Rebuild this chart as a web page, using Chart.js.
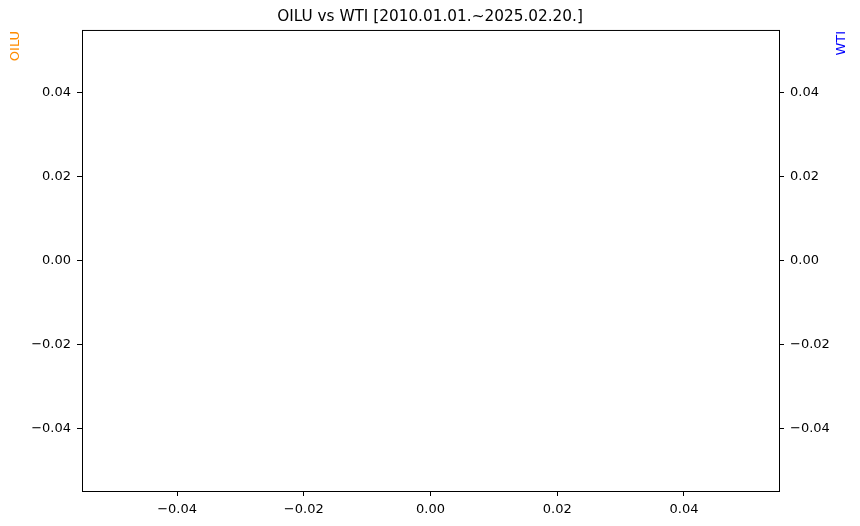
<!DOCTYPE html>
<html>
<head>
<meta charset="utf-8">
<script src="https://cdn.jsdelivr.net/npm/chart.js@4/dist/chart.umd.min.js"></script>
<style>
  html, body { margin: 0; padding: 0; background: #fff; }
  #wrap { width: 860px; height: 526px; }
</style>
</head>
<body>
<div id="wrap"><canvas id="c" width="860" height="526"></canvas></div>
<script>
// ---- data ----
const chartTitle = 'OILU vs WTI [2010.01.01.~2025.02.20.]';
const leftLabel = 'OILU';
const rightLabel = 'WTI';
const leftColor = '#ff8c00';
const rightColor = '#0000ff';
const oiluPoints = [];   // no data plotted in the reference
const wtiPoints = [];    // no data plotted in the reference
const axisMin = -0.055;
const axisMax = 0.055;
const tickValues = [-0.04, -0.02, 0.00, 0.02, 0.04];

const FONT = "'DejaVu Sans', sans-serif";
const TICK_SIZE = 13;

function fmt(v) {
  const s = Number(v).toFixed(2);
  return s.startsWith('-') ? '\u2212' + s.slice(1) : s;
}
function setTicks(scale) {
  scale.ticks = tickValues.map(v => ({ value: v }));
}
function axisCommon(pos, size) {
  return {
    type: 'linear',
    position: pos,
    min: axisMin,
    max: axisMax,
    afterBuildTicks: setTicks,
    afterFit: s => { if (pos === 'bottom') s.height = size; else s.width = size; },
    border: { display: false },
    grid: { drawOnChartArea: false, drawTicks: true, tickLength: 5, tickColor: '#000', tickWidth: 1 },
    ticks: {
      color: '#000',
      font: { family: FONT, size: TICK_SIZE },
      padding: 6,
      autoSkip: false,
      maxRotation: 0,
      callback: v => fmt(v)
    }
  };
}

const framePlugin = {
  id: 'frameAndLabels',
  afterDraw(chart) {
    const { ctx, chartArea: a } = chart;
    ctx.save();
    ctx.strokeStyle = '#000';
    ctx.lineWidth = 1;
    ctx.strokeRect(a.left + 0.5, a.top + 0.5, a.right - a.left, a.bottom - a.top);
    ctx.font = TICK_SIZE + 'px ' + FONT;
    ctx.textAlign = 'right';
    ctx.textBaseline = 'middle';
    // left label
    ctx.save();
    ctx.translate(16, a.top + 1);
    ctx.rotate(-Math.PI / 2);
    ctx.fillStyle = leftColor;
    ctx.fillText(leftLabel, 0, 0);
    ctx.restore();
    // right label
    ctx.save();
    ctx.translate(842, a.top + 1);
    ctx.rotate(-Math.PI / 2);
    ctx.fillStyle = rightColor;
    ctx.fillText(rightLabel, 0, 0);
    ctx.restore();
    ctx.restore();
  }
};

new Chart(document.getElementById('c'), {
  type: 'scatter',
  data: {
    datasets: [
      { label: leftLabel, data: oiluPoints, yAxisID: 'y', borderColor: leftColor, backgroundColor: leftColor },
      { label: rightLabel, data: wtiPoints, yAxisID: 'y2', borderColor: rightColor, backgroundColor: rightColor }
    ]
  },
  options: {
    responsive: false,
    animation: false,
    devicePixelRatio: 1,
    layout: { padding: 0 },
    plugins: {
      legend: { display: false },
      tooltip: { enabled: false },
      title: {
        display: true,
        text: chartTitle,
        color: '#000',
        font: { family: FONT, size: 15.3, weight: 'normal', lineHeight: 1.2 },
        padding: { top: 8, bottom: 3.6 }
      }
    },
    scales: {
      x: axisCommon('bottom', 35),
      y: axisCommon('left', 82),
      y2: axisCommon('right', 81)
    }
  },
  plugins: [framePlugin]
});
</script>
</body>
</html>
